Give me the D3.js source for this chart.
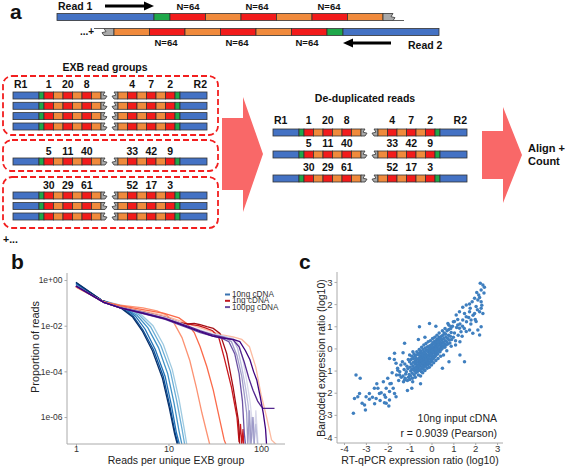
<!DOCTYPE html>
<html><head><meta charset="utf-8">
<script src="https://cdn.jsdelivr.net/npm/d3@7"></script>
<style>body{margin:0;background:#fff} svg{display:block} text{font-family:"Liberation Sans",Arial,sans-serif}</style>
</head><body>
<svg id="fig" width="567" height="466"></svg>
<script>
// ---------------- DATA ----------------
// Panel a: EXB barcode numbers per read group (left read, right read), copies per group
const groupLeft = [[1,20,8],[5,11,40],[30,29,61]];
const groupRight = [[4,7,2],[33,42,9],[52,17,3]];
const groupCopies = [4,1,3];
const nLabel = "N=64";

// Panel b: reads per unique EXB group vs proportion of reads
const curveGroups = ["10ng","10ng","10ng","10ng","10ng","10ng","1ng","1ng","1ng","1ng","1ng","100pg","100pg","100pg","100pg","100pg","100pg"];
const curves = [
 [[1,0.55],[1.9,0.13],[3.5,0.068],[5,0.032],[6.8,0.01],[8.8,1.5e-3],[11,1.2e-4],[13,6e-6],[14.8,3e-7],[15.8,6e-8]],
 [[1,0.6],[1.9,0.13],[3.4,0.065],[4.8,0.03],[6.4,0.009],[8.3,1.3e-3],[10.5,1e-4],[12.3,5e-6],[14,3e-7],[15,6e-8]],
 [[1,0.65],[1.9,0.13],[3.3,0.062],[4.6,0.028],[6.0,0.008],[7.8,1.1e-3],[9.8,8e-5],[11.5,4e-6],[13,2.5e-7],[14,6e-8]],
 [[1,0.7],[1.9,0.13],[3.3,0.06],[4.4,0.026],[5.6,0.007],[7.2,9e-4],[9.2,6e-5],[10.8,3e-6],[12.2,2e-7],[13.2,6e-8]],
 [[1,0.76],[1.9,0.13],[3.2,0.058],[4.2,0.025],[5.3,0.0065],[6.9,8.6e-4],[8.8,5.8e-5],[10.4,2.8e-6],[11.8,2e-7],[12.8,6e-8]],
 [[1,0.8],[1.9,0.13],[3.1,0.057],[4.1,0.024],[5.2,0.006],[6.7,8e-4],[8.6,5e-5],[10.2,2.5e-6],[11.6,2e-7],[12.5,6e-8]],
 [[1,0.5],[2,0.11],[3,0.07],[5.3,0.045],[9,0.028],[14,0.015],[20,0.009],[28,0.006],[38,0.004],[50,0.0032],[62,0.0025],[75,0.0012],[88,1.5e-4],[100,1e-5],[115,1e-6],[130,1e-7],[148,6e-8]],
 [[1,0.5],[2,0.11],[3,0.08],[5.3,0.06],[7.5,0.045],[9.5,0.03],[11.5,0.013],[14,0.003],[17,3e-4],[20,2e-5],[23,1.5e-6],[26,2e-7],[28,6e-8],[29.5,6e-8]],
 [[1,0.5],[2,0.11],[3,0.075],[5.3,0.05],[9,0.035],[13,0.022],[16,0.012],[19,0.005],[22,1.2e-3],[26,1.6e-4],[30.5,1.5e-5],[36,7e-7],[40,1e-7],[42,6e-8]],
 [[1,0.55],[2,0.105],[3,0.062],[5.3,0.038],[9.2,0.022],[13,0.013],[17,0.0115],[21,0.01],[25,0.008],[30,0.006],[35,0.003],[40,4e-4],[48,2e-5],[55,1e-6],[58,8e-8],[60,5e-7],[62,6e-8],[64,3e-7],[65,6e-8]],
 [[1,0.55],[2,0.105],[3,0.065],[5.3,0.04],[9.2,0.024],[13,0.014],[16,0.012],[19,0.0125],[22,0.011],[26,0.009],[30.5,0.0076],[36,0.0046],[42.6,6e-4],[50,2e-5],[57,7e-7],[59,6e-8]],
 [[1,0.55],[2,0.105],[3,0.064],[5.3,0.039],[9.2,0.023],[13,0.014],[17,0.009],[22,0.0065],[30,0.0045],[40,0.0035],[50,0.0028],[58,0.0015],[64,3e-4],[70,4e-5],[76,5e-6],[80,8e-7],[84,6e-8],[88,2e-6],[93,6e-8],[98,6e-8]],
 [[1,0.55],[2,0.105],[3,0.063],[5.3,0.038],[9.2,0.022],[13,0.013],[17,0.0085],[22,0.006],[30,0.0042],[40,0.0033],[50,0.0025],[56,1e-3],[62,1.5e-4],[68,2e-5],[73,3e-6],[76,6e-8],[80,1e-6],[84,6e-8],[88,5e-7],[92,6e-8]],
 [[1,0.55],[2,0.105],[3,0.062],[5.3,0.036],[9.2,0.02],[13,0.012],[17,0.008],[22,0.0055],[30,0.004],[40,0.0032],[48,0.002],[55,5e-4],[62,6e-5],[66,1e-5],[70,1.5e-6],[72,6e-8],[75,2e-6],[78,6e-8],[82,1e-6],[85,6e-8]],
 [[1,0.55],[2,0.105],[3,0.06],[5.3,0.034],[9.2,0.019],[13,0.011],[17,0.0075],[22,0.005],[30,0.0035],[38,0.0028],[45,0.002],[52,6e-4],[58,8e-5],[63,5e-6],[66,2e-7],[68,6e-8]],
 [[1,0.55],[2,0.105],[3,0.062],[5.3,0.037],[9.2,0.021],[13,0.013],[17,0.009],[22,0.006],[30,0.004],[40,0.003],[50,0.0024],[58,0.0012],[66,2.5e-4],[74,5e-5],[82,1.5e-5],[92,5e-6],[100,3e-6],[106,2.4e-6],[140,2.4e-6]],
 [[1,0.55],[2,0.105],[3,0.06],[5.3,0.035],[9.2,0.02],[13,0.012],[17,0.008],[22,0.0055],[30,0.0035],[40,0.0028],[50,0.0025],[59,0.002],[68,8e-4],[76,3.2e-4],[83,1e-4],[90,4.2e-5],[98,8e-6],[106,1.4e-6],[112,3e-7],[115,6e-8]]
];
const curveColors = ["#9ecae1","#6baed6","#4292c6","#2171b5","#08519c","#08306b",
 "#fcbba1","#fc9272","#fb6a4a","#cb181d","#a50f15",
 "#dadaeb","#bcbddc","#9e9ac8","#6a51a3","#54278f","#3f007d"];
const legendLabels = ["10ng cDNA","1ng cDNA","100pg cDNA"];
const legendColors = ["#3a72b0","#c0161e","#6a51a3"];
const bYTicks = [1,1e-2,1e-4,1e-6];
const bYTickLabels = ["1e+00","1e-02","1e-04","1e-06"];
const bXTicks = [1,10,100];

// Panel c: RT-qPCR (x) vs barcoded (y) log10 expression ratios
const cPoints = [
 [2.23,2.94],[2.35,2.86],[2.42,2.76],[2.27,2.64],[2.07,2.52],[2.16,2.41],[1.97,2.26],[2.12,2.19],[1.86,2.11],[2.27,2.11],
 [1.74,2.0],[1.59,1.96],[2.04,1.89],[1.43,1.86],[1.77,1.81],[2.27,1.81],[2.2,1.66],[1.74,1.66],[1.28,1.66],[1.51,1.58],
 [1.97,1.58],[2.35,1.58],[1.13,1.51],[1.59,1.43],[1.43,1.28],[1.81,1.28],[2.04,1.21],[1.05,1.21],[1.2,1.06],[0.75,1.13],
 [0.9,0.98],[1.28,0.91],[1.74,0.83],[2.12,0.83],[2.27,0.98],[1.89,0.68],[2.2,0.61],[1.59,0.76],[1.51,-0.6],[-0.09,1.13],
 [-0.55,0.98],[-0.85,-0.15],[-1.23,0.23],[-1.0,-0.3],[-1.69,-0.22],[-1.92,-0.45],[-1.62,-0.67],[-1.54,-0.98],[-1.46,-1.2],[-1.23,-1.43],
 [-1.84,-1.58],[-2.07,-1.8],[-1.92,-1.95],[-1.69,-2.03],[-2.15,-2.1],[-1.62,-2.18],[-2.45,-1.8],[-2.61,-1.8],[-2.84,-2.03],[-2.53,-2.26],
 [-2.38,-2.03],[-1.92,-2.33],[-2.07,-2.48],[-2.15,-2.45],[-2.99,-2.18],[-2.84,-2.3],[-3.29,-2.03],[-3.45,-1.2],[-3.26,-1.35],[-3.52,-2.26],
 [-3.37,-2.18],[-3.06,-2.56],[-3.02,-2.78],[-3.57,-2.93],[-3.17,-2.48],
 [-1.15,-1.05],[-1.08,-0.92],[-1.02,-1.18],[-0.98,-0.85],[-0.95,-1.02],[-0.92,-0.7],[-0.9,-0.95],[-0.88,-1.12],[-0.85,-0.8],[-0.82,-0.62],
 [-0.8,-0.9],[-0.78,-1.0],[-0.75,-0.72],[-0.73,-0.55],[-0.71,-0.85],[-0.7,-0.65],[-0.68,-0.95],[-0.66,-0.48],[-0.64,-0.75],[-0.62,-0.6],
 [-0.6,-0.88],[-0.58,-0.5],[-0.57,-0.7],[-0.55,-0.42],[-0.53,-0.62],[-0.52,-0.8],[-0.5,-0.55],[-0.48,-0.35],[-0.47,-0.68],[-0.45,-0.48],
 [-0.44,-0.9],[-0.42,-0.58],[-0.4,-0.4],[-0.39,-0.75],[-0.37,-0.52],[-0.35,-0.3],[-0.34,-0.62],[-0.32,-0.45],[-0.3,-0.7],[-0.29,-0.35],
 [-0.27,-0.55],[-0.25,-0.25],[-0.24,-0.42],[-0.22,-0.6],[-0.2,-0.32],[-0.19,-0.5],[-0.17,-0.15],[-0.15,-0.38],[-0.14,-0.58],[-0.12,-0.28],
 [-0.1,-0.45],[-0.09,-0.1],[-0.07,-0.32],[-0.05,-0.2],[-0.04,-0.48],[-0.02,-0.05],[0,-0.25],[0.02,-0.38],[0.03,-0.12],[0.05,0.02],
 [0.07,-0.22],[0.08,-0.35],[0.1,-0.08],[0.12,0.08],[0.14,-0.18],[0.16,0.0],[0.18,-0.28],[0.2,0.12],[0.22,-0.1],[0.24,0.05],
 [0.26,0.2],[0.28,-0.05],[0.3,0.1],[0.33,0.25],[0.35,-0.02],[0.38,0.15],[0.4,0.3],[0.43,0.05],[0.45,0.22],[0.48,0.38],
 [0.5,0.12],[0.53,0.28],[0.56,0.45],[0.6,0.2],[0.63,0.35],[0.66,0.52],[0.7,0.3],[0.74,0.45],[0.78,0.6],[0.82,0.38],[0.86,0.55],[0.9,0.72],
 [-1.3,-1.25],[-1.25,-0.95],[-1.2,-1.35],[-1.12,-0.8],[-1.05,-1.3],[-1.0,-0.6],[-0.96,-1.25],[-0.93,-0.5],[-0.87,-1.35],[-0.83,-0.45],
 [-0.79,-1.2],[-0.76,-0.35],[-0.72,-1.1],[-0.69,-0.3],[-0.65,-1.05],[-0.61,-0.25],[-0.58,-1.0],[-0.54,-0.2],[-0.51,-0.95],[-0.49,-0.12],
 [-0.46,-1.05],[-0.43,-0.2],[-0.41,-0.85],[-0.38,-0.05],[-0.36,-0.95],[-0.33,-0.15],[-0.31,-0.82],[-0.28,0.02],[-0.26,-0.78],[-0.23,-0.08],
 [-0.21,-0.72],[-0.18,0.08],[-0.16,-0.75],[-0.13,-0.05],[-0.11,-0.68],[-0.08,0.12],[-0.06,-0.62],[-0.03,0.05],[-0.01,-0.58],[0.01,0.18],
 [0.04,-0.5],[0.06,0.25],[0.09,-0.45],[0.11,0.3],[0.13,-0.4],[0.15,0.2],[0.17,-0.35],[0.19,0.35],[0.21,-0.3],[0.23,0.28],
 [0.25,-0.2],[0.27,0.42],[0.29,-0.25],[0.32,0.38],[0.34,-0.12],[0.36,0.5],[0.39,-0.15],[0.41,0.45],[0.44,-0.05],[0.46,0.55],
 [0.49,0.0],[0.52,0.6],[0.55,0.1],[0.58,0.7],[0.61,0.05],[0.64,0.65],[0.67,0.15],[0.71,0.8],[0.75,0.2],[0.79,0.85],
 [0.84,0.25],[0.88,0.9],[0.92,0.4],[0.96,1.0],[1.0,0.5],[1.05,0.7],[1.1,0.35],[1.15,0.95],[1.22,0.6],[1.3,1.1],[1.35,0.75],[1.42,1.0],
 [-1.6,-1.2],[-1.55,-0.9],[-1.5,-1.45],[-1.45,-1.05],[-1.4,-0.75],[-1.38,-1.3],[-1.33,-0.6],[-1.28,-1.5],[-1.22,-0.7],[-1.18,-1.15],
 [-1.1,-1.45],[-1.06,-0.5],[-0.99,-1.4],[-0.9,-0.35],[-0.86,-1.5],[-0.8,-0.25],[-0.74,-1.3],[-0.67,-0.15],[-0.6,-1.2],[-0.56,-0.05],
 [-0.5,-1.25],[-0.45,0.05],[-0.4,-1.1],[-0.35,0.15],[-0.3,-1.0],[-0.25,0.22],[-0.2,-0.9],[-0.15,0.3],[-0.1,-0.85],[-0.05,0.35],
 [0.0,-0.75],[0.05,0.45],[0.1,-0.65],[0.15,0.5],[0.2,-0.55],[0.25,0.6],[0.3,-0.45],[0.35,0.7],[0.42,-0.35],[0.5,0.8],
 [0.55,-0.3],[0.62,0.9],[0.7,-0.1],[0.8,1.05],[0.9,0.1],[1.0,1.2],[1.1,0.15],[1.2,1.3],[1.3,0.3],[1.4,0.55],
 [1.5,0.9],[1.6,1.2],[1.7,1.4],[1.8,1.1],[1.9,1.5],[2.0,1.3],[2.1,1.75],[2.2,2.3],[2.3,1.95],[2.4,2.5],
 [-1.8,-1.1],[-1.9,-1.6],[-2.0,-1.35],[-2.2,-1.5],[-2.3,-2.0],[-2.5,-1.6],[-2.7,-2.2],[-2.1,-2.2],[-1.75,-1.8],[-1.7,-0.5],
 [-1.3,-0.2],[-0.6,0.4],[-0.3,0.5],[0.2,1.0],[0.5,-0.9],[0.8,-0.6],[1.3,-0.3],[-0.9,-1.8],[-0.5,-1.6],[-1.1,-1.9],
 [-2.6,-2.5],[-1.95,-2.6],[-2.35,-2.35],
 [-0.62,-0.78],[-0.48,-0.72],[-0.36,-0.6],[-0.25,-0.5],[-0.14,-0.4],[-0.03,-0.3],[0.08,-0.15],[0.18,-0.05],[-0.7,-0.45],[-0.56,-0.3],
 [-0.44,-0.28],[-0.32,-0.22],[-0.2,-0.1],[-0.1,0.0],[0.02,0.1],[0.12,0.2],[0.3,0.3],[-0.52,-0.45],[-0.4,-0.65],[-0.18,-0.65]
];
const cTicks = [-4,-3,-2,-1,0,1,2,3];
const cNote1 = "10ng input cDNA";
const cNote2 = "r = 0.9039 (Pearson)";

// ---------------- DRAW ----------------
const svg = d3.select("#fig");
const C = {blue:"#4472c4", green:"#1fa84a", red:"#f21b1b", orange:"#f08a3c", grey:"#a9a9a9", pink:"#f96868", dash:"#f21f1f"};
const bold = (s, x, y, size, anchor) => svg.append("text").attr("x",x).attr("y",y).attr("font-size",size)
  .attr("font-weight","bold").attr("text-anchor",anchor||"start").attr("fill","#111").text(s);

bold("a",10,19,21); bold("b",11,269,21); bold("c",299,269,21);

function tearRight(g, x, y, w, h){
  g.append("path").attr("d",`M${x},${y}H${x+w}L${x+w-2},${y+h*0.45}L${x+w+2},${y+h*0.6}L${x+w},${y+h}H${x}Z`)
   .attr("fill",C.grey).attr("stroke","#333").attr("stroke-width",0.8);
}
function tearLeft(g, x, y, w, h){
  g.append("path").attr("d",`M${x+w},${y}H${x}L${x+2},${y+h*0.45}L${x-2},${y+h*0.6}L${x},${y+h}H${x+w}Z`)
   .attr("fill",C.grey).attr("stroke","#333").attr("stroke-width",0.8);
}
function seg(g, x, y, w, h, fill){
  g.append("rect").attr("x",x).attr("y",y).attr("width",w).attr("height",h).attr("fill",fill).attr("stroke","#333").attr("stroke-width",0.8);
}
const gTop = svg.append("g");
{
  const y1 = 13.5, h = 7, sw = 35.5;
  seg(gTop,57,y1,97,h,C.blue); seg(gTop,154,y1,16,h,C.green);
  for(let i=0;i<6;i++) seg(gTop,170+i*sw,y1,sw,h,i%2?C.orange:C.red);
  tearRight(gTop,383,y1,10,h);
  gTop.append("line").attr("x1",393).attr("x2",404).attr("y1",y1+h).attr("y2",y1+h).attr("stroke","#333").attr("stroke-width",0.8);
  const y2 = 28.5;
  tearLeft(gTop,104,y2,10,h);
  gTop.append("line").attr("x1",94).attr("x2",104).attr("y1",y2).attr("y2",y2).attr("stroke","#333").attr("stroke-width",0.8);
  for(let i=0;i<6;i++) seg(gTop,114+i*sw,y2,sw,h,i%2?C.red:C.orange);
  seg(gTop,327,y2,16,h,C.green); seg(gTop,343,y2,96,h,C.blue);
  [188,257,329].forEach(x=>bold(nLabel,x,10,9.5,"middle"));
  [166,237,307].forEach(x=>bold(nLabel,x,46,9.5,"middle"));
  bold("Read 1",58,10,10.5); bold("Read 2",408,49,10.5); bold("...+",80,35,10);
  gTop.append("line").attr("x1",105).attr("x2",145).attr("y1",6).attr("y2",6).attr("stroke","#000").attr("stroke-width",3);
  gTop.append("path").attr("d","M144,1.5L154,6L144,10.5Z").attr("fill","#000");
  gTop.append("line").attr("x1",352).attr("x2",391).attr("y1",43).attr("y2",43).attr("stroke","#000").attr("stroke-width",3);
  gTop.append("path").attr("d","M353,38.5L343,43L353,47.5Z").attr("fill","#000");
}
function pair(g, x0, y, h){
  const s = 9.5;
  seg(g,x0,y,26,h,C.blue); seg(g,x0+26,y,5,h,C.green);
  for(let i=0;i<6;i++) seg(g,x0+31+i*s,y,s,h,i%2?C.orange:C.red);
  tearRight(g,x0+88,y,4,h);
  const r = x0+100;
  tearLeft(g,r+1,y,4,h);
  for(let i=0;i<6;i++) seg(g,r+5+i*s,y,s,h,i%2?C.red:C.orange);
  seg(g,r+62,y,5,h,C.green); seg(g,r+67,y,27,h,C.blue);
}
function pairLabels(x0, yb, L, R, withR){
  const s = 9.5;
  L.forEach((v,i)=>bold(String(v), x0+31+s*(2*i+0.5), yb, 10.5, "middle"));
  R.forEach((v,i)=>bold(String(v), x0+100+5+s*(2*i+1.5), yb, 10.5, "middle"));
  if(withR){ bold("R1",x0+1,yb,10.5); bold("R2",x0+194,yb,10.5,"end"); }
}
const ga = svg.append("g");
bold("EXB read groups",105,71,10.5,"middle");
const boxes = [[76,135],[140,171],[177,228]];
boxes.forEach(b=>ga.append("rect").attr("x",3).attr("y",b[0]).attr("width",215).attr("height",b[1]-b[0])
  .attr("rx",9).attr("fill","none").attr("stroke",C.dash).attr("stroke-width",1.8).attr("stroke-dasharray","6,3"));
const rowTops = [[92,102.3,112.6,123],[158],[192,202.5,213]];
const labelY = [88,155,189];
groupCopies.forEach((n,gi)=>{
  pairLabels(13,labelY[gi],groupLeft[gi],groupRight[gi],gi===0);
  for(let k=0;k<n;k++) pair(ga,13,rowTops[gi][k],7);
});
bold("+...",3,243,10.5);
bold("De-duplicated reads",365,102,10.5,"middle");
const dedupTop = [129,151,175], dedupLab=[124,147,171];
groupCopies.forEach((n,gi)=>{
  pairLabels(273,dedupLab[gi],groupLeft[gi],groupRight[gi],gi===0);
  pair(ga,273,dedupTop[gi],7);
});
svg.append("path").attr("d","M222,118H243V97L263,154L243,212V190H222Z").attr("fill",C.pink);
svg.append("path").attr("d","M482,131H503V107L522,155L503,203V179H482Z").attr("fill",C.pink);
bold("Align +",528,152,11); bold("Count",528,165,11);

// ---------------- Panel b ----------------
const bx = d3.scaleLog().domain([0.8,181.8]).range([67,285]);
const by = d3.scaleLog().domain([6.6e-8,2.03]).range([444,273]);
svg.append("clipPath").attr("id","clipb").append("rect").attr("x",67).attr("y",273).attr("width",218).attr("height",171);
const gb = svg.append("g").attr("clip-path","url(#clipb)");
const line = d3.line().x(d=>bx(d[0])).y(d=>by(Math.max(d[1],6e-8)));
curves.forEach((c,i)=>gb.append("path").attr("d",line(c)).attr("fill","none").attr("stroke",curveColors[i]).attr("stroke-width",1.3));
const styleAx = (g,dom,fs)=>{g.select(".domain").attr("d",dom).attr("stroke","#aaa");g.selectAll("line").attr("stroke","#aaa");
  g.selectAll("text").attr("font-size",fs).attr("fill","#333").attr("font-family","Liberation Sans, Arial");};
svg.append("g").attr("transform","translate(67,0)").call(d3.axisLeft(by).tickValues(bYTicks).tickFormat((d,i)=>bYTickLabels[i]).tickSize(2.5).tickPadding(2))
  .call(g=>styleAx(g,"M0,273V444",8.5));
svg.append("g").attr("transform","translate(0,444)").call(d3.axisBottom(bx).tickValues(bXTicks).tickFormat(d=>String(d)).tickSize(2).tickPadding(0))
  .call(g=>styleAx(g,"M67,0H285",9));
svg.append("text").attr("x",176).attr("y",464).attr("text-anchor","middle").attr("font-size",10.5).attr("fill","#222").text("Reads per unique EXB group");
svg.append("text").attr("transform","translate(39,347) rotate(-90)").attr("text-anchor","middle").attr("font-size",10.8).attr("fill","#222").text("Proportion of reads");
legendLabels.forEach((l,i)=>{
  const yb = 297+i*6.3;
  svg.append("line").attr("x1",225).attr("x2",230).attr("y1",yb-2.5).attr("y2",yb-2.5).attr("stroke",legendColors[i]).attr("stroke-width",2);
  svg.append("text").attr("x",232).attr("y",yb).attr("font-size",8.2).attr("fill","#333").text(l);
});

// ---------------- Panel c ----------------
const cx = d3.scaleLinear().domain([-4.32,3.27]).range([337,503]);
const cy = d3.scaleLinear().domain([-4.27,3.45]).range([443,272]);
svg.append("g").selectAll("circle").data(cPoints).join("circle")
  .attr("cx",d=>cx(d[0])).attr("cy",d=>cy(d[1])).attr("r",1.75).attr("fill","#3f7fbf");
svg.append("g").attr("transform","translate(337,0)").call(d3.axisLeft(cy).tickValues(cTicks).tickFormat(d=>String(d)).tickSize(2.5).tickPadding(2))
  .call(g=>styleAx(g,"M0,272V443",9.5));
svg.append("g").attr("transform","translate(0,443)").call(d3.axisBottom(cx).tickValues(cTicks).tickFormat(d=>String(d)).tickSize(2).tickPadding(0.5))
  .call(g=>styleAx(g,"M337,0H503",9.5));
svg.append("text").attr("x",420).attr("y",464).attr("text-anchor","middle").attr("font-size",10.5).attr("fill","#222").text("RT-qPCR expression ratio (log10)");
svg.append("text").attr("transform","translate(325,358) rotate(-90)").attr("text-anchor","middle").attr("font-size",10.5).attr("fill","#222").text("Barcoded expression ratio (log10)");
svg.append("text").attr("x",497).attr("y",422).attr("text-anchor","end").attr("font-size",10.5).attr("fill","#222").text(cNote1);
svg.append("text").attr("x",497).attr("y",437).attr("text-anchor","end").attr("font-size",10.5).attr("fill","#222").text(cNote2);
</script></body></html>
